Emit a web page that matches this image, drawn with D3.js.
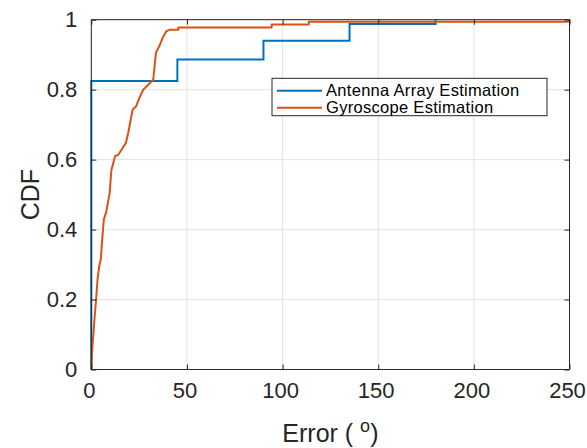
<!DOCTYPE html>
<html>
<head>
<meta charset="utf-8">
<script src="https://cdn.jsdelivr.net/npm/d3@7"></script>
<style>
  html, body { margin: 0; padding: 0; background: #fff; }
  svg { display: block; font-family: "Liberation Sans", Arial, Helvetica, sans-serif; }
</style>
</head>
<body>
<svg id="chart" width="587" height="448"></svg>
<script>
// ---- data ----
const seriesNames = ["Antenna Array Estimation", "Gyroscope Estimation"];
// antenna: empirical CDF steps (value jumps at each x)
const antennaX = [0, 0, 45, 90, 135, 180];
const antennaY = [0, 0.825, 0.886, 0.94, 0.988, 1.0];
// gyroscope: traced CDF (dense rise, then flat steps)
const gyroX = [0, 0.4, 1.6, 2.5, 3.3, 4.0, 5.1, 5.2, 6.1, 6.6, 7.8, 9.6, 10.5, 11.5, 12.4, 14.1, 15.9, 18.1, 19.3, 20.6, 21.6, 23.4, 25.1, 27.2, 30.7, 32.4, 32.9, 33.8, 35.9, 37.3, 39.2, 40.8, 45.5, 45.5, 94.3, 94.3, 113.7, 113.7, 250, 250];
const gyroY = [0, 0.05, 0.14, 0.2, 0.26, 0.29, 0.32, 0.333, 0.40, 0.43, 0.45, 0.505, 0.57, 0.59, 0.61, 0.614, 0.629, 0.648, 0.676, 0.714, 0.743, 0.752, 0.776, 0.80, 0.819, 0.829, 0.857, 0.905, 0.929, 0.948, 0.967, 0.971, 0.971, 0.978, 0.978, 0.986, 0.986, 0.994, 0.994, 1.0];
const xTicks = [0, 50, 100, 150, 200, 250];
const yTicks = [0, 0.2, 0.4, 0.6, 0.8, 1];
const colors = ["#0072BD", "#D95319"];

// ---- layout ----
const svg = d3.select("#chart");
const L = 91.3, R = 569.5, T = 19.7, B = 369.5;
const x = d3.scaleLinear().domain([0, 250]).range([L, R]);
const y = d3.scaleLinear().domain([0, 1]).range([B, T]);
const axisColor = "#262626";
const tickLen = 5;

// grid
const grid = svg.append("g");
grid.selectAll(".gx").data(xTicks).join("line")
  .attr("x1", d => x(d)).attr("x2", d => x(d)).attr("y1", T).attr("y2", B)
  .attr("stroke", "#e3e3e3").attr("stroke-width", 1);
grid.selectAll(".gy").data(yTicks).join("line")
  .attr("y1", d => y(d)).attr("y2", d => y(d)).attr("x1", L).attr("x2", R)
  .attr("stroke", "#e3e3e3").attr("stroke-width", 1);

// data lines
const antenna = antennaX.map((v, i) => [v, antennaY[i]]);
const gyro = gyroX.map((v, i) => [v, gyroY[i]]);
const stepLine = d3.line().x(d => x(d[0])).y(d => y(d[1])).curve(d3.curveStepAfter);
const linLine = d3.line().x(d => x(d[0])).y(d => y(d[1])).curve(d3.curveLinear);
svg.append("path").datum(antenna).attr("d", stepLine)
  .attr("fill", "none").attr("stroke", colors[0]).attr("stroke-width", 2);
svg.append("path").datum(gyro).attr("d", linLine)
  .attr("fill", "none").attr("stroke", colors[1]).attr("stroke-width", 2)
  .attr("stroke-linejoin", "round");

// axes (ticks inward, box)
const fmt = d => d === 0 ? "0" : d === 1 ? "1" : String(d);
const xAxisB = d3.axisBottom(x).tickValues(xTicks).tickSize(-tickLen).tickPadding(13).tickFormat(d => String(d));
const xAxisT = d3.axisTop(x).tickValues(xTicks).tickSize(-tickLen).tickFormat("");
const yAxisL = d3.axisLeft(y).tickValues(yTicks).tickSize(-tickLen).tickPadding(14).tickFormat(fmt);
const yAxisR = d3.axisRight(y).tickValues(yTicks).tickSize(-tickLen).tickFormat("");

function styleAxis(g) {
  g.select(".domain").attr("stroke", axisColor).attr("stroke-width", 1);
  g.selectAll(".tick line").attr("stroke", axisColor).attr("stroke-width", 1);
  g.selectAll(".tick text").attr("fill", axisColor).style("font-size", "22px")
    .style("font-family", '"Liberation Sans", Arial, Helvetica, sans-serif');
}
const gb = svg.append("g").attr("transform", `translate(0,${B})`).call(xAxisB).call(styleAxis);
gb.select(".domain").attr("d", `M${L},0H${R}`);
gb.selectAll(".tick text").attr("dx", -2.5);
const gt = svg.append("g").attr("transform", `translate(0,${T})`).call(xAxisT).call(styleAxis);
gt.select(".domain").attr("d", `M${L},0H${R}`);
const gl = svg.append("g").attr("transform", `translate(${L},0)`).call(yAxisL).call(styleAxis);
gl.select(".domain").attr("d", `M0,${B}V${T}`);
const gr = svg.append("g").attr("transform", `translate(${R},0)`).call(yAxisR).call(styleAxis);
gr.select(".domain").attr("d", `M0,${B}V${T}`);

// axis labels
const xl = svg.append("text").attr("x", (L + R) / 2).attr("y", 441.5)
  .attr("text-anchor", "middle").attr("fill", axisColor).style("font-size", "25px");
xl.append("tspan").text("Error ( ");
xl.append("tspan").attr("dy", -10).style("font-size", "18px").text("o");
xl.append("tspan").attr("dy", 10).text(")");

svg.append("text").attr("transform", `translate(39,${(T + B) / 2}) rotate(-90)`)
  .attr("text-anchor", "middle").attr("fill", axisColor).style("font-size", "25px").text("CDF");

// legend
const lg = svg.append("g");
const lx = 272, ly = 78.3, lw = 275, lh = 37.4;
lg.append("rect").attr("x", lx).attr("y", ly).attr("width", lw).attr("height", lh)
  .attr("fill", "#fff").attr("stroke", axisColor).attr("stroke-width", 1);
seriesNames.forEach((name, i) => {
  const yy = ly + 12.4 + i * 17;
  lg.append("line").attr("x1", lx + 5).attr("x2", lx + 50).attr("y1", yy).attr("y2", yy)
    .attr("stroke", colors[i]).attr("stroke-width", 2);
  lg.append("text").attr("x", lx + 54).attr("y", yy + 5.5).attr("fill", "#000")
    .style("font-size", "16.5px").style("letter-spacing", "0.3px").text(name);
});
</script>
</body>
</html>
